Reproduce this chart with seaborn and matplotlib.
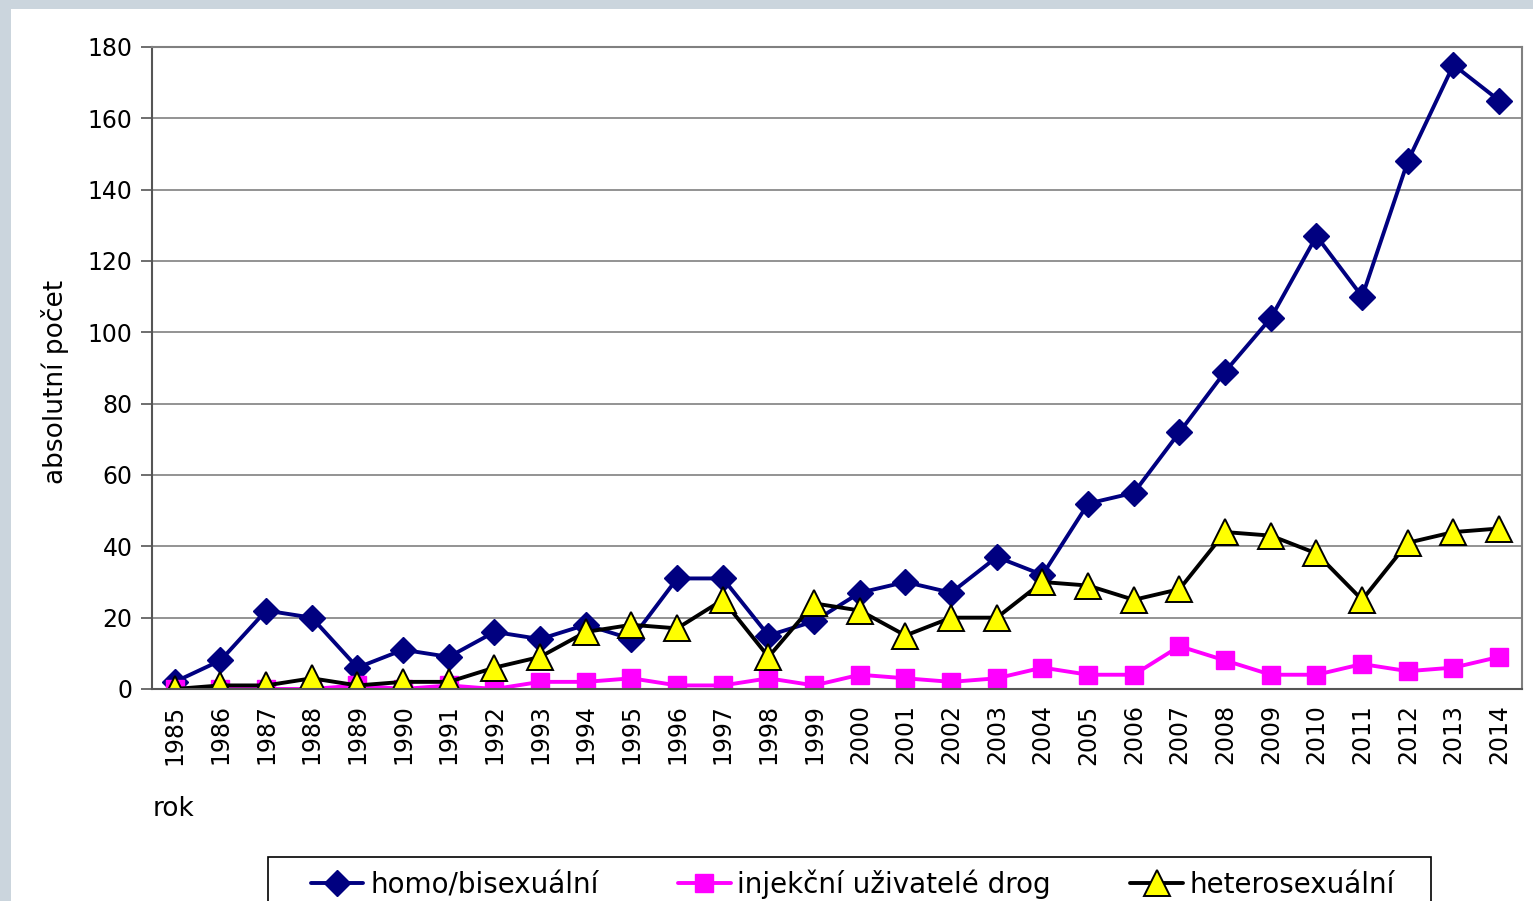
import matplotlib
matplotlib.use("Agg")
import matplotlib.pyplot as plt
import seaborn as sns
from matplotlib.patches import Rectangle

years = list(range(1985, 2015))
homo = [2, 8, 22, 20, 6, 11, 9, 16, 14, 18, 14, 31, 31, 15, 19, 27, 30, 27, 37, 32,
        52, 55, 72, 89, 104, 127, 110, 148, 175, 165]
idu = [0, 0, 0, 0, 1, 0, 1, 0, 2, 2, 3, 1, 1, 3, 1, 4, 3, 2, 3, 6,
       4, 4, 12, 8, 4, 4, 7, 5, 6, 9]
hetero = [0, 1, 1, 3, 1, 2, 2, 6, 9, 16, 18, 17, 25, 9, 24, 22, 15, 20, 20, 30,
          29, 25, 28, 44, 43, 38, 25, 41, 44, 45]
labels = ["homo/bisexuální", "injekční uživatelé drog", "heterosexuální"]
y_ticks = [0, 20, 40, 60, 80, 100, 120, 140, 160, 180]

sns.set_style("white")
plt.rcParams['font.family'] = ['DejaVu Sans']
plt.rcParams['text.color'] = 'black'
plt.rcParams['xtick.color'] = 'black'
plt.rcParams['ytick.color'] = 'black'

W, H = 1533, 901
fig = plt.figure(figsize=(W / 100, H / 100), dpi=100)
fig.patch.set_facecolor('#cbd5dd')
# white slide area
fig.add_artist(Rectangle((11 / W, 0), 1, 1 - 9 / H, transform=fig.transFigure,
                         facecolor='white', edgecolor='none', zorder=-10))

ax = fig.add_axes([152 / W, 1 - 689 / H, 1370 / W, 642 / H])
ax.set_facecolor('white')

sns.lineplot(x=years, y=homo, ax=ax, color='#000080', marker='D', markersize=13,
             markeredgecolor='#000080', markeredgewidth=1, linewidth=2.8, label=labels[0],
             legend=False)
sns.lineplot(x=years, y=idu, ax=ax, color='#ff00ff', marker='s', markersize=12.5,
             markeredgecolor='#ff00ff', markeredgewidth=1, linewidth=2.8, label=labels[1],
             legend=False)
sns.lineplot(x=years, y=hetero, ax=ax, color='black', marker='^', markersize=19,
             markerfacecolor='#ffff00', markeredgecolor='black', markeredgewidth=1.4,
             linewidth=2.8, label=labels[2], legend=False)

ax.set_xlim(1984.5, 2014.5)
ax.set_ylim(0, 180)
ax.set_yticks(y_ticks)
ax.set_xticks(years)
ax.set_xticklabels([str(y) for y in years], rotation=90)
ax.set_xticks([y - 0.5 for y in years] + [2014.5], minor=True)
ax.tick_params(axis='x', which='major', length=0, pad=11, labelsize=17)
ax.tick_params(axis='x', which='minor', length=8, width=1.2, color='#555555', direction='out')
ax.tick_params(axis='y', length=8, width=1.2, color='#555555', direction='out', pad=6,
               labelsize=17, left=True, labelcolor='black')
ax.tick_params(axis='x', labelcolor='black')
ax.set_xlabel("")
ax.set_ylabel("")
ax.yaxis.grid(True, color='#808080', linewidth=1.2)
ax.set_axisbelow(True)
for side in ['left', 'bottom']:
    ax.spines[side].set_color('#555555')
    ax.spines[side].set_linewidth(1.5)
for side in ['top', 'right']:
    ax.spines[side].set_color('#808080')
    ax.spines[side].set_linewidth(1.5)

fig.text(55 / W, 1 - 382 / H, "absolutní počet", rotation=90, ha='center', va='center',
         fontsize=19, color='black')
fig.text(153 / W, 1 - 809 / H, "rok", ha='left', va='center', fontsize=19, color='black')

# legend box, cut off by the bottom edge like in the slide
fig.add_artist(Rectangle((268 / W, -0.05), 1163 / W, 0.05 + 1 - 857 / H,
                         transform=fig.transFigure, facecolor='white', edgecolor='black',
                         linewidth=1.2, zorder=5))
handles, _ = ax.get_legend_handles_labels()
leg = fig.legend(handles, labels, loc='upper left', bbox_to_anchor=(298 / W, 1 - 857 / H),
                 ncol=3, fontsize=20, frameon=False, borderpad=0.45,
                 borderaxespad=0, handlelength=1.9, handletextpad=0.25, columnspacing=2.85,
                 labelcolor='black')
leg.set_zorder(6)

fig.savefig("out.png", dpi=100, facecolor=fig.get_facecolor())
